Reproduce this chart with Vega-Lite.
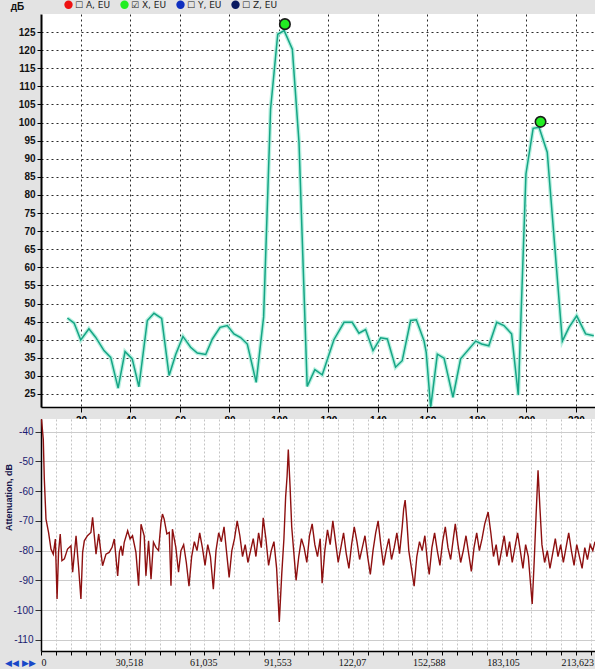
{
  "$schema": "https://vega.github.io/schema/vega-lite/v6.json",
  "autosize": {"type": "pad"},
  "padding": {"left": 4, "top": 0, "right": 0, "bottom": 2},
  "background": "#e3e3e3",
  "spacing": 12,
  "bounds": "flush",
  "config": {
    "view": {"stroke": null, "fill": "white"},
    "font": "Liberation Sans",
    "axis": {"labelFont": "Liberation Sans", "titleFont": "Liberation Sans"}
  },
  "datasets": {
    "fft": [
      {"x": 14.5, "y": 46.0}, {"x": 17.2, "y": 44.6}, {"x": 19.9, "y": 39.9}, {"x": 23.2, "y": 43.0},
      {"x": 25.9, "y": 40.7}, {"x": 29.3, "y": 37.0}, {"x": 32.0, "y": 35.1}, {"x": 35.0, "y": 26.6},
      {"x": 37.8, "y": 36.7}, {"x": 40.7, "y": 34.7}, {"x": 43.4, "y": 27.0}, {"x": 46.8, "y": 45.3},
      {"x": 49.5, "y": 47.3}, {"x": 52.6, "y": 45.9}, {"x": 55.6, "y": 30.1}, {"x": 58.3, "y": 36.0},
      {"x": 61.2, "y": 40.9}, {"x": 64.3, "y": 37.9}, {"x": 67.0, "y": 36.3}, {"x": 70.4, "y": 35.9},
      {"x": 73.1, "y": 40.2}, {"x": 76.2, "y": 43.4}, {"x": 79.1, "y": 43.9}, {"x": 81.8, "y": 41.6},
      {"x": 84.5, "y": 40.6}, {"x": 87.2, "y": 38.8}, {"x": 90.8, "y": 28.2}, {"x": 93.8, "y": 46.3},
      {"x": 96.6, "y": 103.7}, {"x": 99.5, "y": 124.4}, {"x": 102.1, "y": 125.4}, {"x": 105.4, "y": 120.3},
      {"x": 108.1, "y": 94.5}, {"x": 111.4, "y": 27.1}, {"x": 114.5, "y": 31.7}, {"x": 117.5, "y": 30.3},
      {"x": 122.2, "y": 40.0}, {"x": 126.3, "y": 44.8}, {"x": 129.6, "y": 44.8}, {"x": 132.3, "y": 41.8},
      {"x": 135.0, "y": 42.8}, {"x": 138.0, "y": 37.0}, {"x": 141.1, "y": 40.5}, {"x": 143.8, "y": 40.2},
      {"x": 147.1, "y": 32.4}, {"x": 149.8, "y": 34.2}, {"x": 153.2, "y": 45.3}, {"x": 155.5, "y": 45.5},
      {"x": 158.6, "y": 39.7}, {"x": 159.5, "y": 36.5}, {"x": 161.3, "y": 21.3}, {"x": 164.0, "y": 36.0},
      {"x": 166.7, "y": 34.9}, {"x": 170.3, "y": 24.1}, {"x": 173.4, "y": 34.7}, {"x": 179.5, "y": 39.6},
      {"x": 181.9, "y": 38.8}, {"x": 184.8, "y": 38.3}, {"x": 188.0, "y": 44.8}, {"x": 190.9, "y": 43.9},
      {"x": 194.0, "y": 41.6}, {"x": 196.7, "y": 24.7}, {"x": 199.8, "y": 85.8}, {"x": 202.7, "y": 98.4},
      {"x": 205.1, "y": 98.7}, {"x": 208.4, "y": 91.8}, {"x": 214.5, "y": 39.6}, {"x": 217.2, "y": 43.4},
      {"x": 220.3, "y": 46.6}, {"x": 223.9, "y": 41.6}, {"x": 227.2, "y": 41.1}
    ],
    "peaks": [
      {"x": 102.4, "y": 127.2, "series": "☑ X, EU"},
      {"x": 205.7, "y": 100.2, "series": "☑ X, EU"}
    ],
    "atten": [
      {"f": 0.0, "db": -34}, {"f": 0.94, "db": -42.5}, {"f": 1.36, "db": -55.9}, {"f": 2.05, "db": -69.4},
      {"f": 3.1, "db": -73.9}, {"f": 4.1, "db": -79.5}, {"f": 5.05, "db": -81.2}, {"f": 5.9, "db": -76.1},
      {"f": 6.6, "db": -96.3}, {"f": 7.2, "db": -80.6}, {"f": 7.9, "db": -74.4}, {"f": 8.6, "db": -83.4},
      {"f": 9.6, "db": -82.8}, {"f": 10.9, "db": -79.5}, {"f": 12.3, "db": -78.4}, {"f": 13.0, "db": -87.3},
      {"f": 14.4, "db": -75.0}, {"f": 15.4, "db": -85.1}, {"f": 16.4, "db": -96.3}, {"f": 17.1, "db": -80.6},
      {"f": 17.8, "db": -76.7}, {"f": 19.1, "db": -75.0}, {"f": 20.5, "db": -73.9}, {"f": 21.2, "db": -68.8},
      {"f": 21.9, "db": -75.0}, {"f": 22.6, "db": -81.2}, {"f": 23.7, "db": -74.4}, {"f": 24.6, "db": -80.6},
      {"f": 25.3, "db": -85.1}, {"f": 26.7, "db": -81.2}, {"f": 28.0, "db": -80.6}, {"f": 29.2, "db": -78.9},
      {"f": 30.1, "db": -76.1}, {"f": 31.5, "db": -88.5}, {"f": 32.2, "db": -80.6}, {"f": 32.9, "db": -78.4},
      {"f": 33.5, "db": -81.7}, {"f": 34.2, "db": -77.2}, {"f": 35.6, "db": -73.3}, {"f": 36.6, "db": -76.1},
      {"f": 37.6, "db": -75.0}, {"f": 39.0, "db": -80.6}, {"f": 40.1, "db": -91.8}, {"f": 41.1, "db": -71.1},
      {"f": 42.4, "db": -75.0}, {"f": 43.1, "db": -88.5}, {"f": 44.2, "db": -76.7}, {"f": 45.2, "db": -89.6},
      {"f": 46.2, "db": -77.2}, {"f": 47.2, "db": -78.9}, {"f": 48.3, "db": -80.0}, {"f": 49.3, "db": -70.5},
      {"f": 49.9, "db": -67.7}, {"f": 50.6, "db": -69.4}, {"f": 51.7, "db": -74.4}, {"f": 52.7, "db": -73.9},
      {"f": 53.4, "db": -91.8}, {"f": 54.0, "db": -72.8}, {"f": 55.4, "db": -78.9}, {"f": 56.5, "db": -87.3},
      {"f": 57.5, "db": -80}, {"f": 58.6, "db": -78}, {"f": 59.7, "db": -84}, {"f": 60.8, "db": -92},
      {"f": 61.9, "db": -82}, {"f": 63.0, "db": -77}, {"f": 64.1, "db": -80}, {"f": 65.2, "db": -74},
      {"f": 66.3, "db": -79}, {"f": 67.4, "db": -85}, {"f": 68.5, "db": -78}, {"f": 69.6, "db": -82},
      {"f": 70.8, "db": -93}, {"f": 71.9, "db": -80}, {"f": 73.0, "db": -74}, {"f": 74.1, "db": -77},
      {"f": 75.2, "db": -72}, {"f": 76.3, "db": -81}, {"f": 77.3, "db": -89}, {"f": 78.4, "db": -80},
      {"f": 79.5, "db": -76}, {"f": 80.6, "db": -70}, {"f": 81.7, "db": -75}, {"f": 82.8, "db": -82},
      {"f": 83.9, "db": -78}, {"f": 85.0, "db": -84}, {"f": 86.1, "db": -80}, {"f": 87.2, "db": -76},
      {"f": 88.3, "db": -82}, {"f": 89.4, "db": -74}, {"f": 90.5, "db": -79}, {"f": 91.3, "db": -69},
      {"f": 92.4, "db": -76}, {"f": 93.5, "db": -85}, {"f": 94.6, "db": -80}, {"f": 95.7, "db": -77},
      {"f": 96.8, "db": -86}, {"f": 97.9, "db": -104}, {"f": 98.9, "db": -88}, {"f": 99.8, "db": -76},
      {"f": 100.5, "db": -62}, {"f": 101.1, "db": -55}, {"f": 101.6, "db": -46}, {"f": 102.3, "db": -58},
      {"f": 103.0, "db": -72}, {"f": 103.8, "db": -80}, {"f": 104.8, "db": -90}, {"f": 105.9, "db": -82},
      {"f": 107.0, "db": -76}, {"f": 108.1, "db": -79}, {"f": 109.2, "db": -84}, {"f": 110.3, "db": -75},
      {"f": 111.4, "db": -71}, {"f": 112.5, "db": -78}, {"f": 113.6, "db": -82}, {"f": 114.7, "db": -76},
      {"f": 115.5, "db": -91}, {"f": 116.6, "db": -80}, {"f": 117.7, "db": -73}, {"f": 118.8, "db": -78},
      {"f": 119.9, "db": -70}, {"f": 121.0, "db": -77}, {"f": 122.1, "db": -84}, {"f": 123.2, "db": -79},
      {"f": 124.3, "db": -74}, {"f": 125.4, "db": -81}, {"f": 126.5, "db": -86}, {"f": 127.6, "db": -78},
      {"f": 128.7, "db": -72}, {"f": 129.8, "db": -77}, {"f": 130.9, "db": -83}, {"f": 132.0, "db": -79},
      {"f": 133.1, "db": -75}, {"f": 134.2, "db": -82}, {"f": 135.3, "db": -88}, {"f": 136.4, "db": -80},
      {"f": 137.5, "db": -74}, {"f": 138.5, "db": -70}, {"f": 139.6, "db": -78}, {"f": 140.7, "db": -85},
      {"f": 141.8, "db": -80}, {"f": 142.9, "db": -76}, {"f": 144.0, "db": -83}, {"f": 145.1, "db": -79},
      {"f": 146.2, "db": -74}, {"f": 147.3, "db": -81}, {"f": 148.4, "db": -72}, {"f": 149.0, "db": -66},
      {"f": 149.6, "db": -63}, {"f": 150.3, "db": -70}, {"f": 151.1, "db": -80}, {"f": 152.2, "db": -86},
      {"f": 153.3, "db": -92}, {"f": 154.4, "db": -82}, {"f": 155.5, "db": -77}, {"f": 156.6, "db": -80},
      {"f": 157.7, "db": -75}, {"f": 158.8, "db": -84}, {"f": 159.5, "db": -88}, {"f": 160.6, "db": -79},
      {"f": 161.7, "db": -74}, {"f": 162.8, "db": -80}, {"f": 163.9, "db": -85}, {"f": 165.0, "db": -77},
      {"f": 166.1, "db": -72}, {"f": 167.2, "db": -79}, {"f": 168.3, "db": -83}, {"f": 169.4, "db": -76},
      {"f": 170.2, "db": -71}, {"f": 171.3, "db": -78}, {"f": 172.4, "db": -84}, {"f": 173.5, "db": -80},
      {"f": 174.6, "db": -75}, {"f": 175.7, "db": -81}, {"f": 176.8, "db": -87}, {"f": 177.9, "db": -79},
      {"f": 179.0, "db": -74}, {"f": 180.1, "db": -80}, {"f": 181.2, "db": -76}, {"f": 182.3, "db": -71},
      {"f": 183.7, "db": -67}, {"f": 184.8, "db": -74}, {"f": 185.9, "db": -82}, {"f": 187.0, "db": -78},
      {"f": 188.1, "db": -85}, {"f": 189.2, "db": -80}, {"f": 190.3, "db": -75}, {"f": 191.4, "db": -82},
      {"f": 192.5, "db": -77}, {"f": 193.6, "db": -84}, {"f": 194.7, "db": -79}, {"f": 195.8, "db": -74},
      {"f": 196.9, "db": -80}, {"f": 198.0, "db": -86}, {"f": 199.1, "db": -78}, {"f": 200.2, "db": -82},
      {"f": 201.0, "db": -90}, {"f": 201.8, "db": -98}, {"f": 202.6, "db": -84}, {"f": 203.4, "db": -68},
      {"f": 204.2, "db": -53}, {"f": 205.0, "db": -66}, {"f": 205.8, "db": -78}, {"f": 206.9, "db": -84},
      {"f": 208.0, "db": -80}, {"f": 209.1, "db": -86}, {"f": 210.2, "db": -81}, {"f": 211.3, "db": -76},
      {"f": 212.4, "db": -82}, {"f": 213.5, "db": -78}, {"f": 214.6, "db": -84}, {"f": 215.7, "db": -79},
      {"f": 216.8, "db": -74}, {"f": 217.9, "db": -80}, {"f": 219.0, "db": -85}, {"f": 220.1, "db": -78},
      {"f": 221.2, "db": -82}, {"f": 222.3, "db": -86}, {"f": 223.4, "db": -79}, {"f": 224.5, "db": -83},
      {"f": 225.6, "db": -78}, {"f": 226.7, "db": -80}, {"f": 227.6, "db": -77}
    ]
  },
  "vconcat": [
    {
      "width": 554,
      "height": 393,
      "encoding": {
        "x": {
          "field": "x", "type": "quantitative",
          "scale": {"domain": [3.84, 227.7], "nice": false, "zero": false},
          "axis": {
            "values": [20, 40, 60, 80, 100, 120, 140, 160, 180, 200, 220],
            "grid": true, "gridColor": "#2a2a2a", "gridDash": [2, 3], "gridWidth": 1,
            "domainColor": "#000", "domainWidth": 1.5, "tickColor": "#000", "tickSize": 5,
            "labelFontSize": 10, "labelFontWeight": "bold", "labelColor": "#000", "labelPadding": 3,
            "labelFlush": false, "title": null
          }
        },
        "y": {
          "field": "y", "type": "quantitative",
          "scale": {"domain": [21.4, 130], "nice": false, "zero": false},
          "axis": {
            "values": [25, 30, 35, 40, 45, 50, 55, 60, 65, 70, 75, 80, 85, 90, 95, 100, 105, 110, 115, 120, 125],
            "grid": true, "gridColor": "#2a2a2a", "gridDash": [2, 3], "gridWidth": 1,
            "domainColor": "#000", "domainWidth": 2, "tickColor": "#000", "tickSize": 4,
            "labelFontSize": 10, "labelFontWeight": "bold", "labelColor": "#111", "labelPadding": 2,
            "labelFlush": false,
            "title": "дБ", "titleAngle": 0, "titleX": -24, "titleY": -8, "titleAlign": "center",
            "titleBaseline": "middle", "titleFontSize": 10, "titleFontWeight": "bold", "titleColor": "#111"
          }
        }
      },
      "layer": [
        {
          "data": {"name": "fft"},
          "mark": {"type": "line", "color": "#b8f0e0", "strokeWidth": 4, "clip": true}
        },
        {
          "data": {"name": "fft"},
          "mark": {"type": "line", "color": "#15a585", "strokeWidth": 1.5, "clip": true}
        },
        {
          "data": {"name": "peaks"},
          "mark": {"type": "point", "filled": true, "size": 110, "stroke": "#1a1a1a", "strokeWidth": 1.6, "opacity": 1},
          "encoding": {
            "fill": {
              "field": "series", "type": "nominal",
              "scale": {"domain": ["☐ A, EU", "☑ X, EU", "☐ Y, EU", "☐ Z, EU"], "range": ["#ee1111", "#22ee22", "#1030c0", "#0a1a60"]},
              "legend": {
                "orient": "none", "legendX": 23, "legendY": -14, "direction": "horizontal", "columns": 4,
                "title": null, "symbolType": "circle", "symbolSize": 70, "symbolStrokeWidth": 0,
                "labelFontSize": 9, "labelFont": "DejaVu Sans", "labelColor": "#222", "labelOffset": 2,
                "columnPadding": 9, "padding": 0
              }
            }
          }
        }
      ]
    },
    {
      "width": 554,
      "height": 232,
      "data": {"name": "atten"},
      "mark": {"type": "line", "color": "#8e1010", "strokeWidth": 1.4, "clip": true},
      "encoding": {
        "x": {
          "field": "f", "type": "quantitative",
          "scale": {"domain": [0, 227.6], "nice": false, "zero": false},
          "axis": {
            "values": [0, 6.1035, 12.207, 18.311, 24.414, 30.518, 36.621, 42.725, 48.828, 54.932, 61.035, 67.139, 73.242, 79.346, 85.449, 91.553, 97.656, 103.76, 109.863, 115.967, 122.07, 128.174, 134.277, 140.381, 146.484, 152.588, 158.691, 164.795, 170.898, 177.002, 183.105, 189.209, 195.313, 201.416, 207.52, 213.623, 219.727, 225.83],
            "labelExpr": "round(datum.value / 6.1035156) % 5 == 0 ? replace(format(datum.value, '.3~f'), '.', ',') : ''",
            "labelAlign": "left", "labelFlush": false, "labelOverlap": false,
            "grid": true, "gridColor": "#c4c4c4", "gridDash": [2, 2], "gridWidth": 1,
            "domainColor": "#000", "domainWidth": 1.5, "tickColor": "#000", "tickSize": 4,
            "labelFont": "Liberation Sans Narrow", "labelFontSize": 10, "labelColor": "#111", "labelPadding": 2,
            "title": "◀◀ ▶▶", "titleX": -21, "titleY": 11, "titleAlign": "center", "titleBaseline": "middle",
            "titleFont": "DejaVu Sans", "titleFontSize": 9, "titleColor": "#1848c8", "titleFontWeight": "bold"
          }
        },
        "y": {
          "field": "db", "type": "quantitative",
          "scale": {"domain": [-113.8, -35.7], "nice": false, "zero": false},
          "axis": {
            "values": [-110, -100, -90, -80, -70, -60, -50, -40],
            "labelExpr": "'-' + abs(datum.value)",
            "grid": true, "gridColor": "#cccccc", "gridWidth": 1,
            "domainColor": "#000", "domainWidth": 1.5, "tickColor": "#333", "tickSize": 6,
            "labelFontSize": 10, "labelColor": "#1a1a70", "labelPadding": 2,
            "title": "Attenuation, dB", "titleX": -33, "titleY": 78, "titleAlign": "center", "titleBaseline": "middle",
            "titleFontSize": 9, "titleFontWeight": "bold", "titleColor": "#14144a"
          }
        }
      }
    }
  ]
}
